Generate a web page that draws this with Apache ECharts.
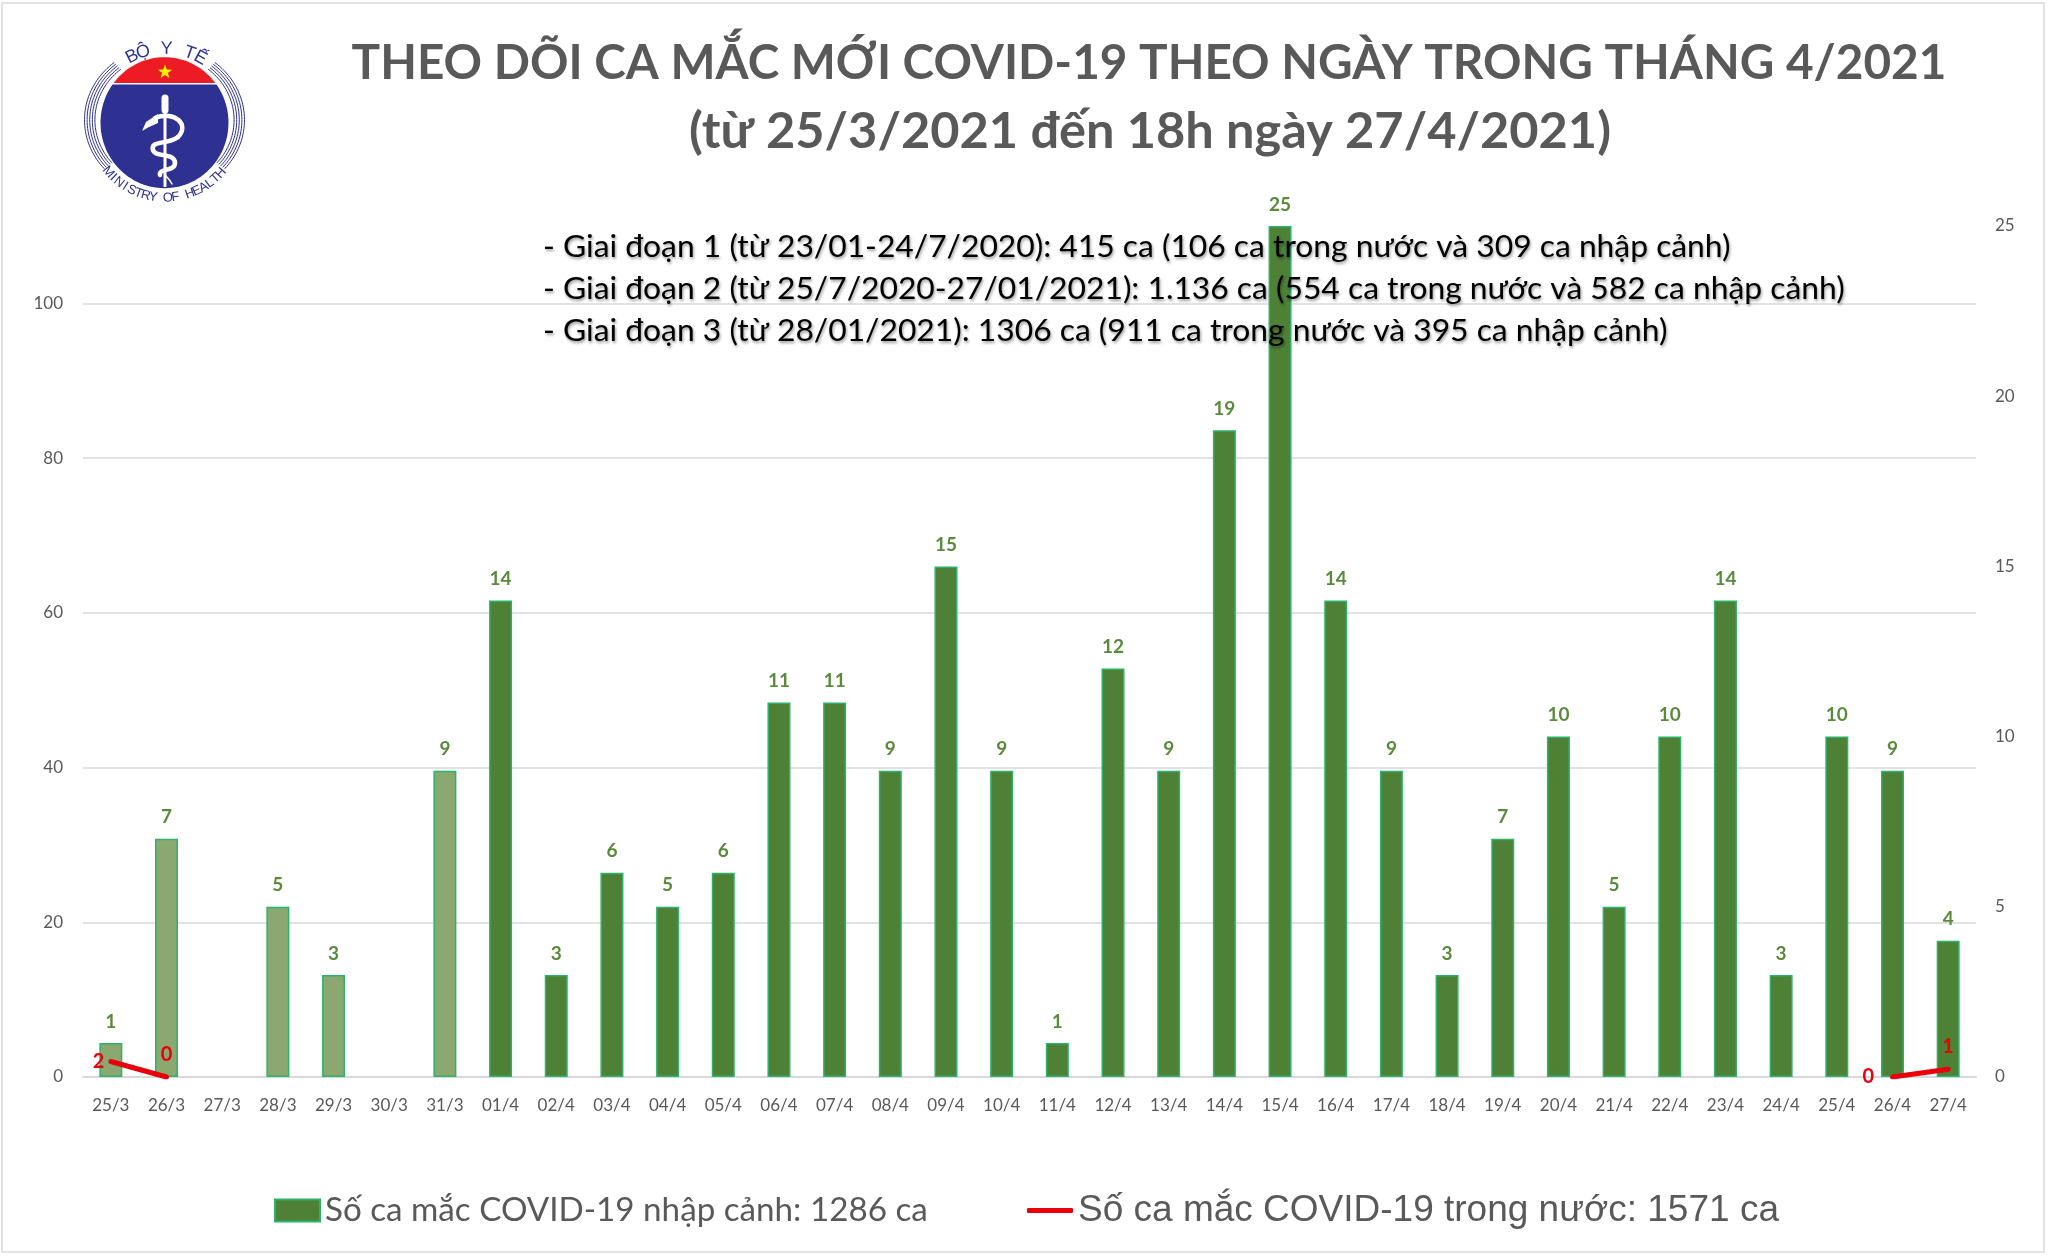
<!DOCTYPE html>
<html>
<head>
<meta charset="utf-8">
<script src="https://cdn.jsdelivr.net/npm/echarts@6/dist/echarts.min.js"></script>
<style>
  html, body { margin: 0; padding: 0; background: #fff; }
  #chart-container { width: 2048px; height: 1256px; }
</style>
</head>
<body>
<div id="chart-container"></div>
<script>
var dom = document.getElementById("chart-container");
var myChart = echarts.init(dom, null, { renderer: "canvas" });

var title_line1 = "THEO DÕI CA MẮC MỚI COVID-19 THEO NGÀY TRONG THÁNG 4/2021";
var title_line2 = "(từ 25/3/2021 đến 18h ngày 27/4/2021)";
var notes = [
  "- Giai đoạn 1 (từ 23/01-24/7/2020): 415 ca (106 ca trong nước và 309 ca nhập cảnh)",
  "- Giai đoạn 2 (từ 25/7/2020-27/01/2021): 1.136 ca (554 ca trong nước và 582 ca nhập cảnh)",
  "- Giai đoạn 3 (từ 28/01/2021): 1306 ca (911 ca trong nước và 395 ca nhập cảnh)",
];
var barName = "Số ca mắc COVID-19 nhập cảnh: 1286 ca";
var lineName = "Số ca mắc COVID-19 trong nước: 1571 ca";

var days = [
  "25/3", "26/3", "27/3", "28/3", "29/3", "30/3", "31/3",
  "01/4", "02/4", "03/4", "04/4", "05/4", "06/4", "07/4", "08/4", "09/4", "10/4",
  "11/4", "12/4", "13/4", "14/4", "15/4", "16/4", "17/4", "18/4", "19/4", "20/4",
  "21/4", "22/4", "23/4", "24/4", "25/4", "26/4", "27/4",
];
var imported = [
  1, 7, null, 5, 3, null, 9,
  14, 3, 6, 5, 6, 11, 11, 9, 15, 9,
  1, 12, 9, 19, 25, 14, 9, 3, 7, 10,
  5, 10, 14, 3, 10, 9, 4,
];
var domestic = [
  2, 0, null, null, null, null, null,
  null, null, null, null, null, null, null, null, null, null,
  null, null, null, null, null, null, null, null, null, null,
  null, null, null, null, null, 0, 1,
];
// bars of March are drawn paler in the original
var paleBars = 7;
// where each red number sits around its point
var domesticLabels = {
  0: { position: "left", distance: 6 },
  1: { position: "top", distance: 12 },
  32: { position: "left", distance: 18 },
  33: { position: "top", distance: 12 },
};

var GREEN = "#4e8135";
var EDGE = "#2bb36b";
var BLUE = "#2e3192";
var FONT = "Lato, 'Open Sans', sans-serif";

var barData = imported.map(function (v, i) {
  return {
    value: v,
    itemStyle: i < paleBars ? { color: "#8ba870" } : { color: GREEN },
  };
});
var lineData = domestic.map(function (v, i) {
  var lab = domesticLabels[i];
  return lab ? { value: v, label: lab } : { value: v };
});

// logo helpers, only decoration
function ellipsePoints(cx, cy, rx, ry, from, to, steps) {
  var pts = [];
  for (var i = 0; i <= steps; i++) {
    var t = from + ((to - from) * i) / steps;
    pts.push([cx + rx * Math.sin(t), cy - ry * Math.cos(t)]);
  }
  return pts;
}
function starPoints(cx, cy, r) {
  var pts = [];
  for (var i = 0; i < 10; i++) {
    var rad = i % 2 ? r * 0.4 : r;
    var t = (i * Math.PI) / 5;
    pts.push([cx + rad * Math.sin(t), cy - rad * Math.cos(t)]);
  }
  return pts;
}
function curve(x1, y1, c1x, c1y, c2x, c2y, x2, y2, width) {
  return {
    type: "bezierCurve",
    z: 12,
    shape: { x1: x1, y1: y1, cpx1: c1x, cpy1: c1y, cpx2: c2x, cpy2: c2y, x2: x2, y2: y2 },
    style: { fill: null, stroke: "#fff", lineWidth: width, lineCap: "round" },
  };
}
function arcLetters(text, cx, cy, r, from, to, bottom, size) {
  var out = [];
  for (var i = 0; i < text.length; i++) {
    if (text[i] === " ") continue;
    var a = from + ((to - from) * i) / (text.length - 1);
    out.push({
      type: "text",
      z: 12,
      x: cx + r * Math.sin(a),
      y: bottom ? cy + r * Math.cos(a) : cy - r * Math.cos(a),
      rotation: bottom ? a : -a,
      style: {
        text: text[i],
        fill: BLUE,
        font: size + "px 'Liberation Sans', sans-serif",
        align: "center",
        verticalAlign: "middle",
      },
    });
  }
  return out;
}

var capAngle = 0.92;
var logo = [
  {
    type: "polygon",
    z: 10,
    shape: { points: ellipsePoints(164.5, 122.7, 64, 65.5, -capAngle, capAngle, 40) },
    style: { fill: "#ed1c24" },
  },
  {
    type: "polygon",
    z: 10,
    shape: { points: ellipsePoints(164.5, 122.7, 64, 65.5, capAngle + 0.03, 2 * Math.PI - capAngle - 0.03, 80) },
    style: { fill: BLUE },
  },
  {
    type: "polygon",
    z: 11,
    shape: { points: starPoints(165, 72, 7.5) },
    style: { fill: "#fff200" },
  },
  {
    type: "line",
    z: 11,
    shape: { x1: 165, y1: 108, x2: 165, y2: 187 },
    style: { stroke: "#fff", lineWidth: 3 },
  },
  {
    type: "line",
    z: 11,
    shape: { x1: 165, y1: 98, x2: 165, y2: 110 },
    style: { stroke: "#fff", lineWidth: 7, lineCap: "round" },
  },
  {
    type: "polygon",
    z: 12,
    shape: { points: [[158, 114], [146, 122], [142, 131], [149, 127], [158, 123]] },
    style: { fill: "#fff" },
  },
  curve(155, 118, 175, 110, 190, 125, 178, 137, 4.5),
  curve(178, 137, 168, 145, 150, 140, 153, 150, 4.5),
  curve(153, 150, 155, 158, 175, 152, 175, 163, 4.5),
  curve(175, 163, 175, 172, 158, 168, 160, 175, 4.5),
  curve(166, 176, 168, 178, 170, 180, 172, 184, 1.5),
];
[0, 1, 2, 3, 4].forEach(function (k) {
  [1, -1].forEach(function (side) {
    logo.push({
      type: "polyline",
      z: 10,
      shape: {
        points: ellipsePoints(164.5, 120, 80 - k * 2.6, 74 - k * 2.2, side * 0.68, side * 2.29, 40),
      },
      style: { fill: null, stroke: BLUE, lineWidth: 1 },
    });
  });
});
logo = logo.concat(arcLetters("BỘ Y TẾ", 165, 123, 74, -0.46, 0.5, false, 18));
logo = logo.concat(arcLetters("MINISTRY OF HEALTH", 165, 123, 75, -0.86, 0.84, true, 13));

var noteText = notes.map(function (line, i) {
  return {
    type: "text",
    z: 100,
    x: 543,
    y: 247 + i * 42,
    silent: true,
    style: {
      text: line,
      fill: "#000",
      font: "31.8px " + FONT,
      verticalAlign: "middle",
      textShadowColor: "rgba(0,0,0,0.4)",
      textShadowBlur: 3,
      textShadowOffsetX: 1,
      textShadowOffsetY: 2,
    },
  };
});

var option = {
  backgroundColor: "#fff",
  animation: false,
  title: [
    {
      text: title_line1,
      left: 1144,
      top: 35,
      textAlign: "center",
      textStyle: { fontFamily: FONT, fontSize: 47.7, fontWeight: "bold", color: "#595959" },
    },
    {
      text: title_line2,
      left: 1145,
      top: 101,
      textAlign: "center",
      textStyle: { fontFamily: FONT, fontSize: 50.5, fontWeight: "bold", color: "#595959" },
    },
  ],
  grid: { left: 83, right: 72, top: 226, height: 851, containLabel: false },
  legend: [
    {
      data: [barName],
      left: 274,
      top: 1194,
      padding: 0,
      icon: "rect",
      itemWidth: 45,
      itemHeight: 22,
      textStyle: { fontFamily: FONT, fontSize: 33.2, color: "#595959" },
    },
    {
      data: [lineName],
      left: 1027,
      top: 1192,
      padding: 0,
      icon: "roundRect",
      itemWidth: 46,
      itemHeight: 5,
      textStyle: { fontFamily: "'Liberation Sans', Arial, sans-serif", fontSize: 37, color: "#595959" },
    },
  ],
  xAxis: {
    type: "category",
    data: days,
    axisTick: { show: false },
    axisLine: { lineStyle: { color: "#d9d9d9", width: 2 } },
    axisLabel: { fontFamily: FONT, fontSize: 17, color: "#595959", margin: 20, interval: 0 },
  },
  yAxis: [
    {
      type: "value",
      min: 0,
      max: 110,
      interval: 20,
      axisLine: { show: false },
      axisTick: { show: false },
      axisLabel: { showMaxLabel: false, fontFamily: FONT, fontSize: 17, color: "#595959", margin: 20 },
      splitLine: { showMaxLine: false, lineStyle: { color: "#d9d9d9", width: 1.5 } },
    },
    {
      type: "value",
      min: 0,
      max: 25,
      interval: 5,
      axisLine: { show: false },
      axisTick: { show: false },
      axisLabel: { fontFamily: FONT, fontSize: 17, color: "#595959", margin: 19 },
      splitLine: { show: false },
    },
  ],
  graphic: {
    elements: [
      {
        type: "rect",
        z: -1,
        silent: true,
        shape: { x: 2, y: 3, width: 2042, height: 1249 },
        style: { fill: null, stroke: "#e2e2e2", lineWidth: 2 },
      },
    ].concat(logo, noteText),
  },
  series: [
    {
      name: barName,
      type: "bar",
      yAxisIndex: 1,
      barWidth: 23,
      data: barData,
      itemStyle: { color: GREEN, borderColor: EDGE, borderWidth: 1.5 },
      label: {
        show: true,
        position: "top",
        distance: 12,
        fontFamily: FONT,
        fontSize: 19,
        fontWeight: "bold",
        color: "#5a8a3c",
      },
    },
    {
      name: lineName,
      type: "line",
      yAxisIndex: 0,
      data: lineData,
      connectNulls: false,
      symbol: "circle",
      symbolSize: 1,
      lineStyle: { color: "#e8000b", width: 5, cap: "round" },
      itemStyle: { color: "#e8000b" },
      label: {
        show: true,
        fontFamily: FONT,
        fontSize: 20,
        fontWeight: "bold",
        color: "#e8000b",
      },
    },
  ],
};

myChart.setOption(option);
</script>
</body>
</html>
